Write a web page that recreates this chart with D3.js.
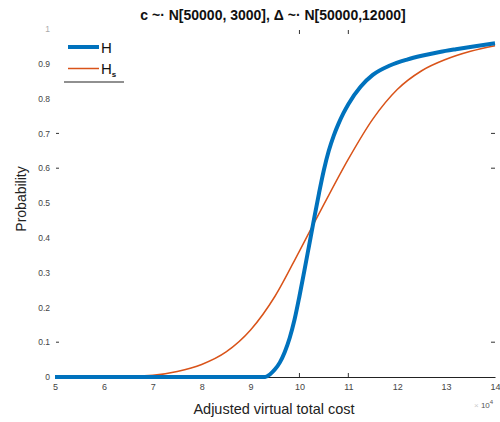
<!DOCTYPE html>
<html>
<head>
<meta charset="utf-8">
<script src="https://cdn.jsdelivr.net/npm/d3@7"></script>
<style>
  body { margin: 0; background: #fff; }
  svg { display: block; }
  text { font-family: "Liberation Sans", Arial, Helvetica, sans-serif; }
</style>
</head>
<body>
<svg id="chart" width="500" height="422"></svg>
<script>
// Cost grid for H (in units of 10^4)
const costH = [5, 6, 7, 8, 9, 9.3, 9.4, 9.5, 9.6, 9.7, 9.8, 9.9, 10.0, 10.1, 10.2, 10.3, 10.4, 10.5, 10.6, 10.7, 10.8, 10.9, 11.0, 11.25, 11.5, 11.85, 12.2, 12.5, 12.87, 13.2, 13.56, 14];
// Probability H
const probH = [0, 0, 0, 0, 0, 0, 0.008, 0.022, 0.042, 0.072, 0.112, 0.165, 0.232, 0.305, 0.38, 0.455, 0.528, 0.595, 0.65, 0.693, 0.728, 0.758, 0.784, 0.834, 0.868, 0.895, 0.912, 0.923, 0.934, 0.942, 0.95, 0.959];

// Cost grid for H_s
const costHs = [5, 6, 6.5, 7, 7.5, 8, 8.5, 9, 9.5, 10, 10.5, 11, 11.5, 12, 12.5, 13, 13.5, 14];
// Probability H_s
const probHs = [0, 0.001, 0.002, 0.005, 0.016, 0.036, 0.072, 0.135, 0.232, 0.362, 0.496, 0.626, 0.741, 0.826, 0.88, 0.913, 0.936, 0.952];

const xTicks = [5, 6, 7, 8, 9, 10, 11, 12, 13, 14];
const yTicks = [0, 0.1, 0.2, 0.3, 0.4, 0.5, 0.6, 0.7, 0.8, 0.9, 1];
const markedX = [10, 11];
const markedY = [0.1, 0.6, 0.7];

const svg = d3.select("#chart");
const x = d3.scaleLinear().domain([5, 14]).range([55, 495]);
const y = d3.scaleLinear().domain([0, 1]).range([377, 29]);

// Title
svg.append("text")
  .attr("x", 273).attr("y", 20)
  .attr("text-anchor", "middle")
  .attr("font-size", 14).attr("font-weight", "bold")
  .attr("fill", "#111")
  .text("c ~· N[50000, 3000], Δ ~· N[50000,12000]");

// Bottom axis
const xAxis = d3.axisBottom(x).tickValues(xTicks).tickSize(0).tickPadding(7)
  .tickFormat(d3.format("d"));
const gx = svg.append("g").attr("transform", "translate(0,377)").call(xAxis);
gx.select(".domain").attr("stroke", "#222").attr("stroke-width", 1.2);
gx.selectAll("text").attr("font-size", 9).attr("fill", "#444");

// Left axis (labels only)
const yAxis = d3.axisLeft(y).tickValues(yTicks).tickSize(0).tickPadding(5)
  .tickFormat(d => d === 0 ? "0" : d === 1 ? "1" : d3.format(".1f")(d));
const gy = svg.append("g").attr("transform", "translate(55,0)").call(yAxis);
gy.select(".domain").remove();
gy.selectAll("text").attr("font-size", 8.5).attr("fill", d => d === 1 ? "#aaa" : "#444");

// Short tick marks
svg.selectAll(".xt-bottom").data(markedX).enter().append("line")
  .attr("x1", d => x(d)).attr("x2", d => x(d))
  .attr("y1", 377).attr("y2", 373)
  .attr("stroke", "#333").attr("stroke-width", 1);
svg.selectAll(".xt-top").data(markedX).enter().append("line")
  .attr("x1", d => x(d)).attr("x2", d => x(d))
  .attr("y1", 30).attr("y2", 34)
  .attr("stroke", "#333").attr("stroke-width", 1);
svg.selectAll(".yt-left").data(markedY).enter().append("line")
  .attr("x1", 56).attr("x2", 59)
  .attr("y1", d => y(d)).attr("y2", d => y(d))
  .attr("stroke", "#333").attr("stroke-width", 1);
svg.selectAll(".yt-right").data(markedY).enter().append("line")
  .attr("x1", 491).attr("x2", 495)
  .attr("y1", d => y(d)).attr("y2", d => y(d))
  .attr("stroke", "#333").attr("stroke-width", 1);

// Curves
const line = d3.line().x(d => x(d[0])).y(d => y(d[1])).curve(d3.curveMonotoneX);

svg.append("path")
  .datum(costHs.map((c, i) => [c, probHs[i]]))
  .attr("d", line)
  .attr("fill", "none").attr("stroke", "#D95319").attr("stroke-width", 1.5);

svg.append("path")
  .datum(costH.map((c, i) => [c, probH[i]]))
  .attr("d", line)
  .attr("fill", "none").attr("stroke", "#0072BD").attr("stroke-width", 4);

// Axis titles
svg.append("text")
  .attr("x", 274).attr("y", 414)
  .attr("text-anchor", "middle")
  .attr("font-size", 14.5).attr("fill", "#222")
  .text("Adjusted virtual total cost");

svg.append("text")
  .attr("transform", "translate(26,199) rotate(-90)")
  .attr("text-anchor", "middle")
  .attr("font-size", 14).attr("fill", "#222")
  .text("Probability");

// Exponent marker
const ex = svg.append("text")
  .attr("x", 474).attr("y", 408)
  .attr("font-size", 8).attr("fill", "#555");
ex.append("tspan").attr("fill", "#ccc").text("× ");
ex.append("tspan").text("10");
ex.append("tspan").attr("dy", -4).attr("font-size", 6).text("4");

// Legend
const legend = svg.append("g");
legend.append("line").attr("x1", 68).attr("x2", 99).attr("y1", 47).attr("y2", 47)
  .attr("stroke", "#0072BD").attr("stroke-width", 4);
legend.append("text").attr("x", 101).attr("y", 52.5)
  .attr("font-size", 15).attr("fill", "#111").text("H");
legend.append("line").attr("x1", 68).attr("x2", 99).attr("y1", 68.5).attr("y2", 68.5)
  .attr("stroke", "#D95319").attr("stroke-width", 1.5);
const hs = legend.append("text").attr("x", 101).attr("y", 74)
  .attr("font-size", 15).attr("fill", "#111");
hs.append("tspan").text("H");
hs.append("tspan").attr("dy", 3).attr("font-size", 8).attr("font-weight", "bold").text("s");
legend.append("line").attr("x1", 64).attr("x2", 124).attr("y1", 82).attr("y2", 82)
  .attr("stroke", "#222").attr("stroke-width", 1.2);
</script>
</body>
</html>
